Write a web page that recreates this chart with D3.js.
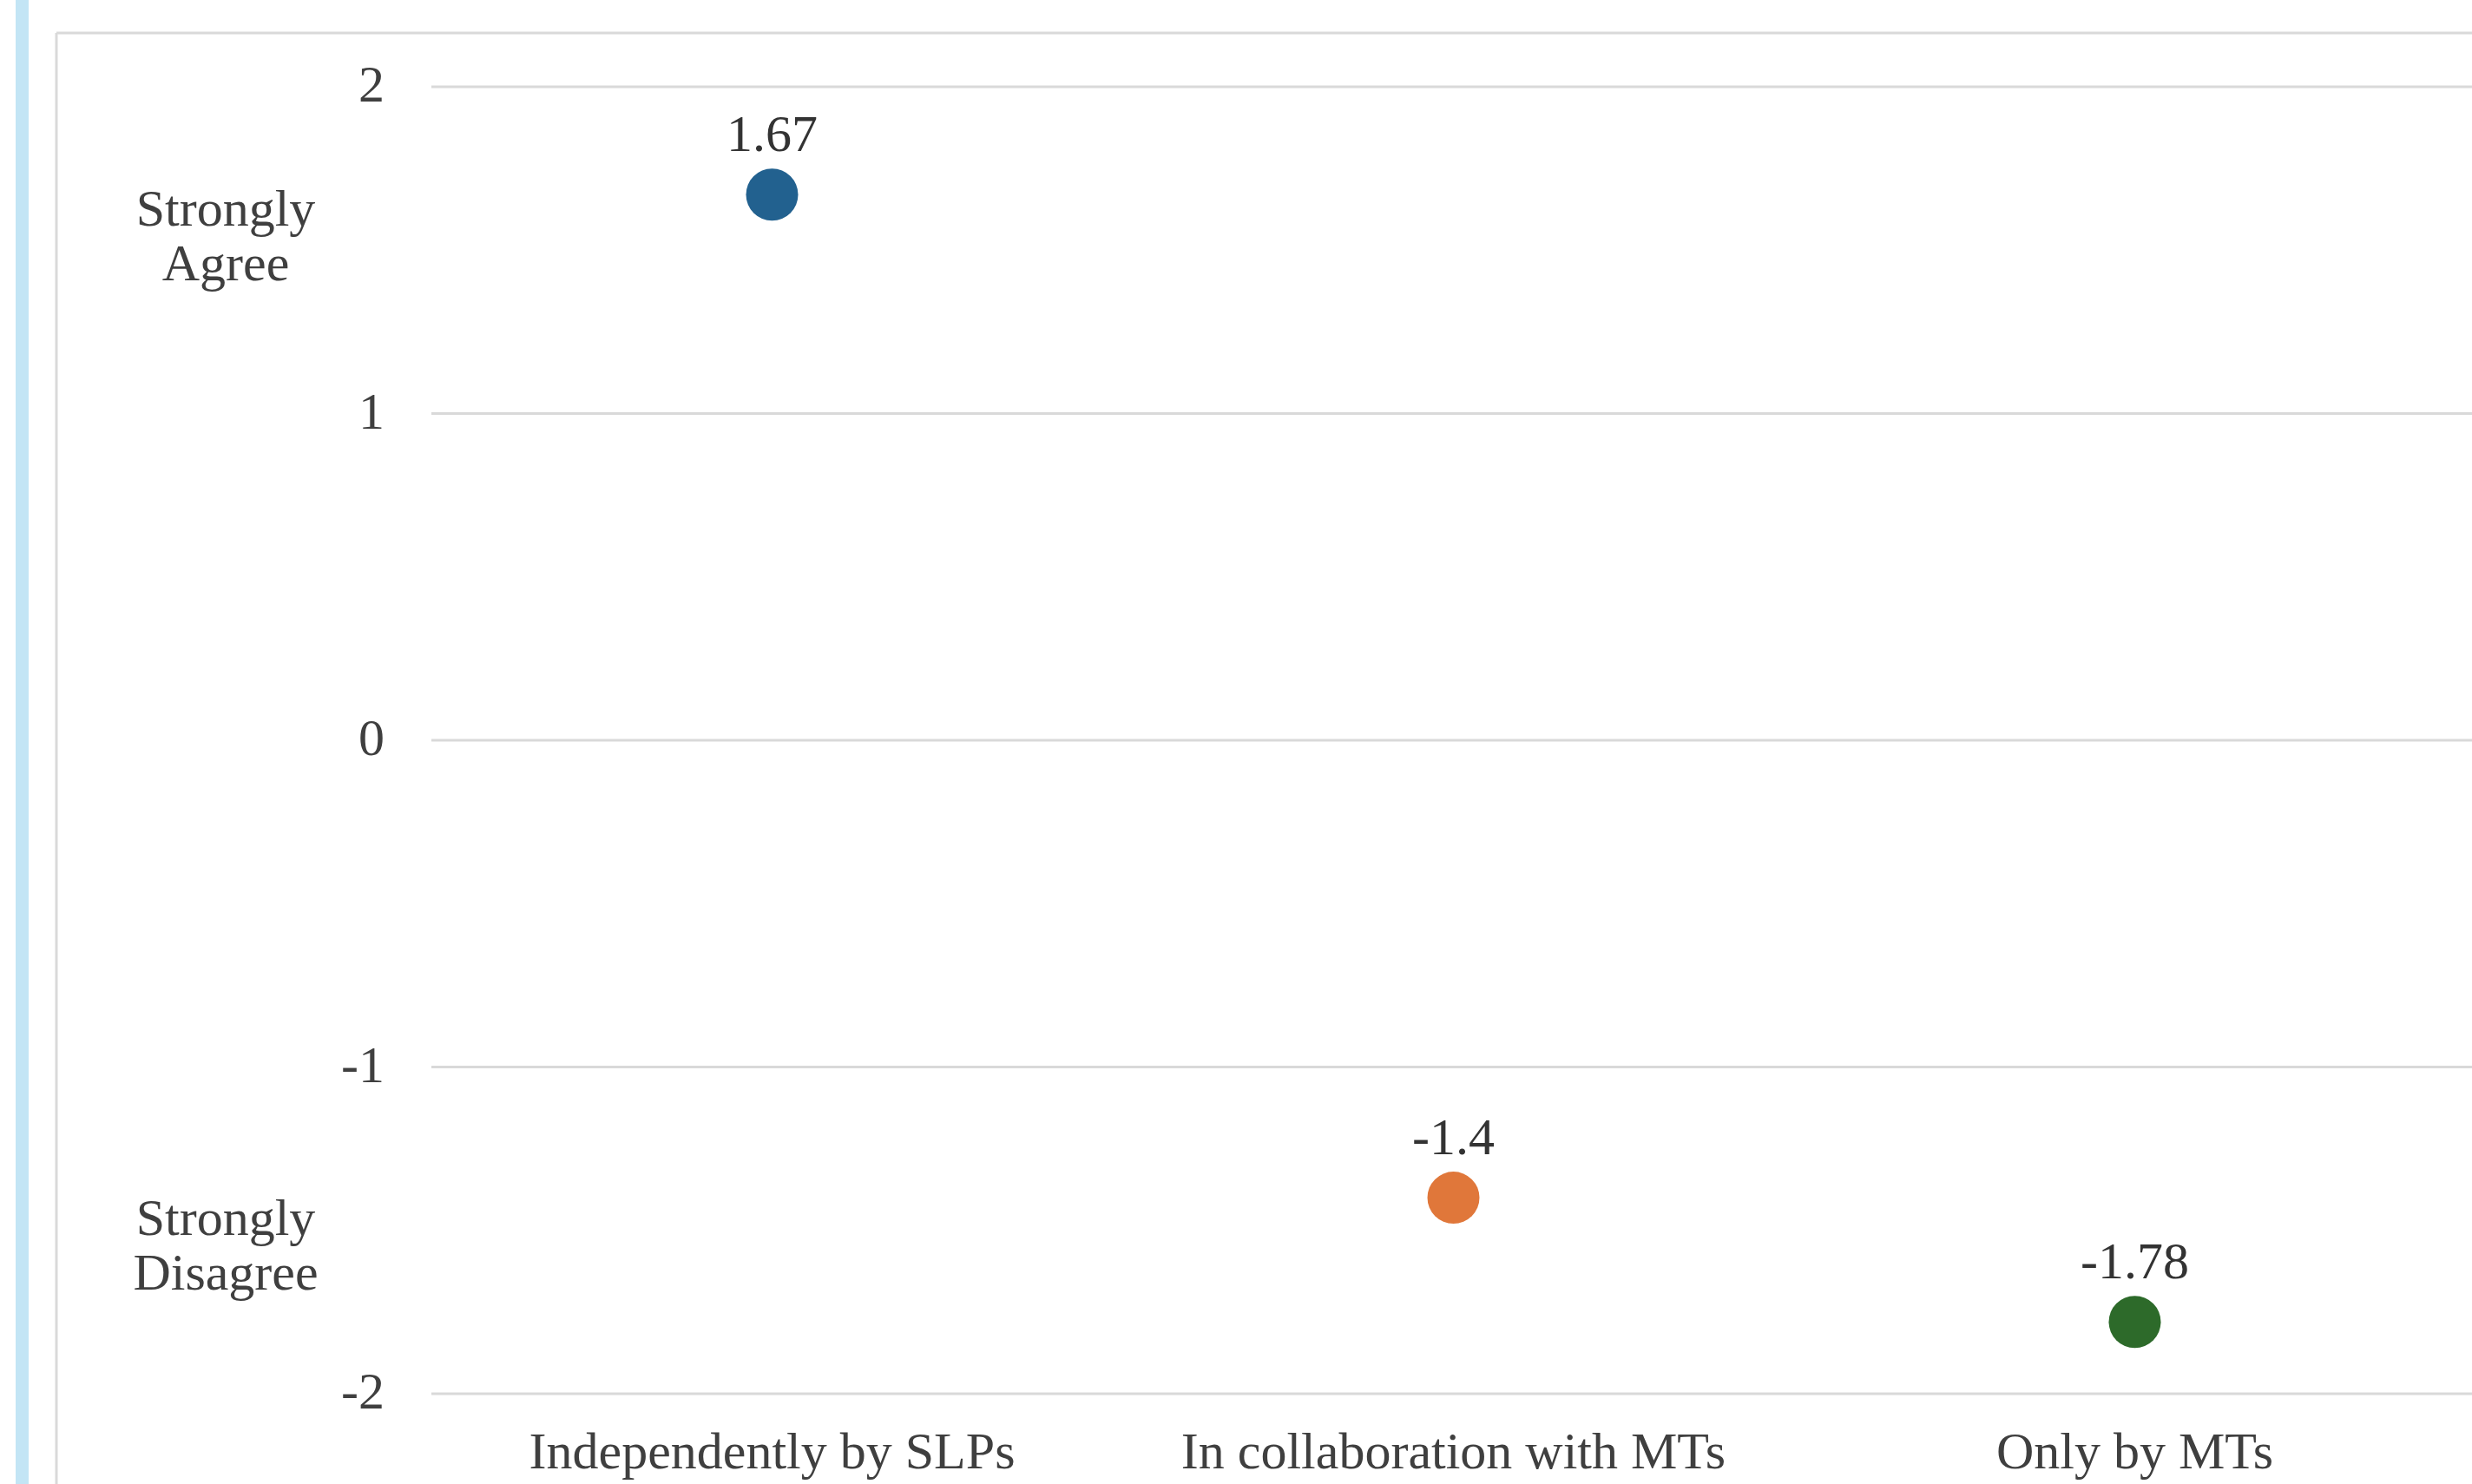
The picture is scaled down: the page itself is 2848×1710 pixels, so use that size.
<!DOCTYPE html>
<html>
<head>
<meta charset="utf-8">
<script src="https://cdn.jsdelivr.net/npm/d3@7"></script>
<style>
  html, body { margin: 0; padding: 0; background: #ffffff; }
  svg { display: block; }
</style>
</head>
<body>
<script>
// Mean agreement scores by who carries out the task
const categories = ["Independently by SLPs", "In collaboration with MTs", "Only by MTs"];
const scores = [1.67, -1.4, -1.78];
const scoreLabels = ["1.67", "-1.4", "-1.78"];
const dotColors = ["#22618f", "#e0773a", "#2d6a2a"];
const yTicks = [-2, -1, 0, 1, 2];
const yTickLabels = ["-2", "-1", "0", "1", "2"];
const anchorLabels = [
  { value: 1.56, lines: ["Strongly", "Agree"] },
  { value: -1.53, lines: ["Strongly", "Disagree"] }
];

const W = 2848, H = 1710;
const svg = d3.select("body").append("svg").attr("width", W).attr("height", H);

// side accent strip and panel frame
svg.append("rect").attr("x", 18).attr("y", 0).attr("width", 15).attr("height", H).attr("fill", "#c3e5f5");
svg.append("line").attr("x1", 65).attr("x2", 65).attr("y1", 38).attr("y2", H)
  .attr("stroke", "#d9d9d9").attr("stroke-width", 3);
svg.append("line").attr("x1", 65).attr("x2", W).attr("y1", 38).attr("y2", 38)
  .attr("stroke", "#d9d9d9").attr("stroke-width", 3);

const plotLeft = 497, step = 785;
const x = d3.scaleBand().domain(categories).range([plotLeft, plotLeft + step * categories.length]);
const y = d3.scaleLinear().domain([-2, 2]).range([1606, 100]);

const font = "'Liberation Serif', 'Times New Roman', serif";
const textColor = "#3f3f3f";

// horizontal gridlines
svg.append("g").selectAll("line").data(yTicks).join("line")
  .attr("x1", plotLeft).attr("x2", W)
  .attr("y1", d => y(d)).attr("y2", d => y(d))
  .attr("stroke", "#d9d9d9").attr("stroke-width", 3);

// y axis tick labels (plain hyphen for negatives)
const yAxis = d3.axisLeft(y).tickValues(yTicks).tickSize(0).tickPadding(0)
  .tickFormat(d => yTickLabels[yTicks.indexOf(d)]);
const gy = svg.append("g").attr("transform", "translate(443,0)").call(yAxis);
gy.select(".domain").remove();
gy.selectAll("text").attr("font-family", font).attr("font-size", 60).attr("fill", textColor).attr("dy", "0.28em");

// x axis category labels
const xAxis = d3.axisBottom(x).tickSize(0).tickPadding(0);
const gx = svg.append("g").attr("transform", "translate(0,1674)").call(xAxis);
gx.select(".domain").remove();
gx.selectAll("text").attr("font-family", font).attr("font-size", 60).attr("fill", textColor).attr("dy", "0.3em");

// scale anchor labels
anchorLabels.forEach(a => {
  const t = svg.append("text").attr("x", 260).attr("y", y(a.value))
    .attr("text-anchor", "middle").attr("font-family", font).attr("font-size", 60).attr("fill", textColor);
  t.selectAll("tspan").data(a.lines).join("tspan")
    .attr("x", 260).attr("dy", (d, i) => i === 0 ? "-0.1em" : "1.05em").text(d => d);
});

// points
const pts = categories.map((c, i) => ({ c, v: scores[i], label: scoreLabels[i], color: dotColors[i] }));
svg.append("g").selectAll("circle").data(pts).join("circle")
  .attr("cx", d => x(d.c) + x.bandwidth() / 2)
  .attr("cy", d => y(d.v))
  .attr("r", 30)
  .attr("fill", d => d.color);

// value labels
svg.append("g").selectAll("text").data(pts).join("text")
  .attr("x", d => x(d.c) + x.bandwidth() / 2)
  .attr("y", d => y(d.v) - 50)
  .attr("text-anchor", "middle")
  .attr("font-family", font).attr("font-size", 60).attr("fill", "#333333")
  .text(d => d.label);
</script>
</body>
</html>
